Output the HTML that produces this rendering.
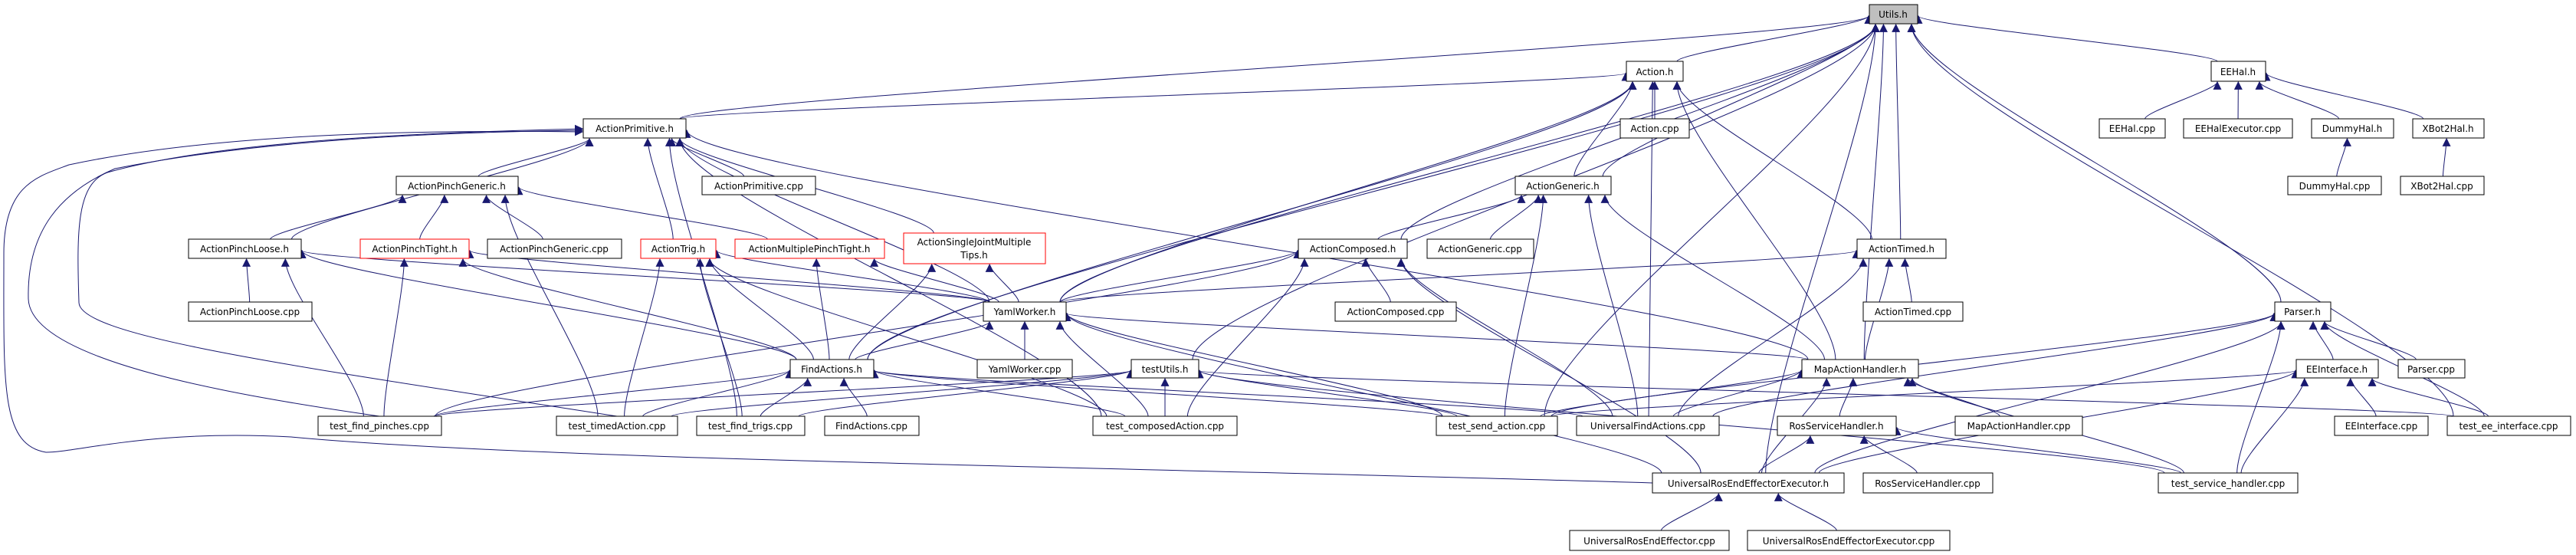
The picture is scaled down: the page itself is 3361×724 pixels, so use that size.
<!DOCTYPE html>
<html><head><meta charset="utf-8"><style>
html,body{margin:0;padding:0;background:#fff;}
svg{display:block;}
text{font-family:"DejaVu Sans","Liberation Sans",sans-serif;font-size:12px;fill:#000;}
</style></head><body>
<svg id="g" width="3361" height="724" viewBox="0 0 3361 724" xmlns="http://www.w3.org/2000/svg">
<defs><marker id="ah" viewBox="0 0 10 10" refX="9" refY="5" markerWidth="11" markerHeight="11" markerUnits="userSpaceOnUse" orient="auto"><path d="M0,0 L10,5 L0,10 z" fill="#191970"/></marker></defs>
<g fill="none" stroke="#191970" stroke-width="1">
<path marker-end="url(#ah)" d="M2156,630 C1500,610 700,600 380,570 C200,560 100,590 60,590 C0,580 5,500 5,330 C5,240 50,230 90,215 C300,170 600,170 760,172"/>
<path marker-end="url(#ah)" d="M495,543 C300,515 40,470 37,390 C35,300 80,250 150,220 C350,180 600,172 760,170"/>
<path marker-end="url(#ah)" d="M805,543 C400,480 105,440 103,395 C100,300 100,240 140,225 C300,180 600,172 760,168"/>
</g>
<g id="edges" fill="none" stroke="#191970" stroke-width="1"></g>
<g id="nodes" stroke-width="1">
<rect x="2439" y="6" width="63" height="25" fill="#bfbfbf" stroke="#000"/><text x="2470" y="23" text-anchor="middle">Utils.h</text>
<rect x="2122" y="80" width="74" height="26" fill="#fff" stroke="#000"/><text x="2159" y="98" text-anchor="middle">Action.h</text>
<rect x="2885" y="80" width="71" height="26" fill="#fff" stroke="#000"/><text x="2920" y="98" text-anchor="middle">EEHal.h</text>
<rect x="761" y="155" width="134" height="25" fill="#fff" stroke="#000"/><text x="828" y="172" text-anchor="middle">ActionPrimitive.h</text>
<rect x="2114" y="155" width="90" height="25" fill="#fff" stroke="#000"/><text x="2159" y="172" text-anchor="middle">Action.cpp</text>
<rect x="2739" y="155" width="86" height="25" fill="#fff" stroke="#000"/><text x="2782" y="172" text-anchor="middle">EEHal.cpp</text>
<rect x="2849" y="155" width="142" height="25" fill="#fff" stroke="#000"/><text x="2920" y="172" text-anchor="middle">EEHalExecutor.cpp</text>
<rect x="3016" y="155" width="107" height="25" fill="#fff" stroke="#000"/><text x="3069" y="172" text-anchor="middle">DummyHal.h</text>
<rect x="3148" y="155" width="93" height="25" fill="#fff" stroke="#000"/><text x="3194" y="172" text-anchor="middle">XBot2Hal.h</text>
<rect x="517" y="230" width="159" height="24" fill="#fff" stroke="#000"/><text x="596" y="247" text-anchor="middle">ActionPinchGeneric.h</text>
<rect x="916" y="230" width="148" height="24" fill="#fff" stroke="#000"/><text x="990" y="247" text-anchor="middle">ActionPrimitive.cpp</text>
<rect x="1977" y="230" width="125" height="24" fill="#fff" stroke="#000"/><text x="2039" y="247" text-anchor="middle">ActionGeneric.h</text>
<rect x="2985" y="230" width="122" height="24" fill="#fff" stroke="#000"/><text x="3046" y="247" text-anchor="middle">DummyHal.cpp</text>
<rect x="3132" y="230" width="109" height="24" fill="#fff" stroke="#000"/><text x="3186" y="247" text-anchor="middle">XBot2Hal.cpp</text>
<rect x="246" y="312" width="147" height="25" fill="#fff" stroke="#000"/><text x="319" y="329" text-anchor="middle">ActionPinchLoose.h</text>
<rect x="470" y="312" width="142" height="25" fill="#fff" stroke="#f00"/><text x="541" y="329" text-anchor="middle">ActionPinchTight.h</text>
<rect x="636" y="312" width="175" height="25" fill="#fff" stroke="#000"/><text x="723" y="329" text-anchor="middle">ActionPinchGeneric.cpp</text>
<rect x="836" y="312" width="98" height="25" fill="#fff" stroke="#f00"/><text x="885" y="329" text-anchor="middle">ActionTrig.h</text>
<rect x="959" y="312" width="195" height="25" fill="#fff" stroke="#f00"/><text x="1056" y="329" text-anchor="middle">ActionMultiplePinchTight.h</text>
<rect x="1179" y="304" width="185" height="40" fill="#fff" stroke="#f00"/><text x="1271" y="320" text-anchor="middle">ActionSingleJointMultiple</text><text x="1271" y="337" text-anchor="middle">Tips.h</text>
<rect x="1694" y="312" width="142" height="25" fill="#fff" stroke="#000"/><text x="1765" y="329" text-anchor="middle">ActionComposed.h</text>
<rect x="1862" y="312" width="139" height="25" fill="#fff" stroke="#000"/><text x="1931" y="329" text-anchor="middle">ActionGeneric.cpp</text>
<rect x="2423" y="312" width="116" height="25" fill="#fff" stroke="#000"/><text x="2481" y="329" text-anchor="middle">ActionTimed.h</text>
<rect x="246" y="394" width="161" height="25" fill="#fff" stroke="#000"/><text x="326" y="411" text-anchor="middle">ActionPinchLoose.cpp</text>
<rect x="1283" y="394" width="108" height="25" fill="#fff" stroke="#000"/><text x="1337" y="411" text-anchor="middle">YamlWorker.h</text>
<rect x="1742" y="394" width="158" height="25" fill="#fff" stroke="#000"/><text x="1821" y="411" text-anchor="middle">ActionComposed.cpp</text>
<rect x="2431" y="394" width="130" height="25" fill="#fff" stroke="#000"/><text x="2496" y="411" text-anchor="middle">ActionTimed.cpp</text>
<rect x="2968" y="394" width="73" height="25" fill="#fff" stroke="#000"/><text x="3004" y="411" text-anchor="middle">Parser.h</text>
<rect x="1031" y="469" width="109" height="24" fill="#fff" stroke="#000"/><text x="1085" y="486" text-anchor="middle">FindActions.h</text>
<rect x="1275" y="469" width="124" height="24" fill="#fff" stroke="#000"/><text x="1337" y="486" text-anchor="middle">YamlWorker.cpp</text>
<rect x="1476" y="469" width="88" height="24" fill="#fff" stroke="#000"/><text x="1520" y="486" text-anchor="middle">testUtils.h</text>
<rect x="2351" y="469" width="152" height="24" fill="#fff" stroke="#000"/><text x="2427" y="486" text-anchor="middle">MapActionHandler.h</text>
<rect x="2996" y="469" width="107" height="24" fill="#fff" stroke="#000"/><text x="3049" y="486" text-anchor="middle">EEInterface.h</text>
<rect x="3129" y="469" width="87" height="24" fill="#fff" stroke="#000"/><text x="3172" y="486" text-anchor="middle">Parser.cpp</text>
<rect x="415" y="543" width="161" height="25" fill="#fff" stroke="#000"/><text x="495" y="560" text-anchor="middle">test_find_pinches.cpp</text>
<rect x="726" y="543" width="158" height="25" fill="#fff" stroke="#000"/><text x="805" y="560" text-anchor="middle">test_timedAction.cpp</text>
<rect x="909" y="543" width="141" height="25" fill="#fff" stroke="#000"/><text x="979" y="560" text-anchor="middle">test_find_trigs.cpp</text>
<rect x="1076" y="543" width="123" height="25" fill="#fff" stroke="#000"/><text x="1137" y="560" text-anchor="middle">FindActions.cpp</text>
<rect x="1426" y="543" width="188" height="25" fill="#fff" stroke="#000"/><text x="1520" y="560" text-anchor="middle">test_composedAction.cpp</text>
<rect x="1874" y="543" width="158" height="25" fill="#fff" stroke="#000"/><text x="1953" y="560" text-anchor="middle">test_send_action.cpp</text>
<rect x="2057" y="543" width="186" height="25" fill="#fff" stroke="#000"/><text x="2150" y="560" text-anchor="middle">UniversalFindActions.cpp</text>
<rect x="2319" y="543" width="155" height="25" fill="#fff" stroke="#000"/><text x="2396" y="560" text-anchor="middle">RosServiceHandler.h</text>
<rect x="2551" y="543" width="166" height="25" fill="#fff" stroke="#000"/><text x="2634" y="560" text-anchor="middle">MapActionHandler.cpp</text>
<rect x="3046" y="543" width="122" height="25" fill="#fff" stroke="#000"/><text x="3107" y="560" text-anchor="middle">EEInterface.cpp</text>
<rect x="3193" y="543" width="161" height="25" fill="#fff" stroke="#000"/><text x="3273" y="560" text-anchor="middle">test_ee_interface.cpp</text>
<rect x="2156" y="617" width="250" height="26" fill="#fff" stroke="#000"/><text x="2281" y="635" text-anchor="middle">UniversalRosEndEffectorExecutor.h</text>
<rect x="2431" y="617" width="169" height="26" fill="#fff" stroke="#000"/><text x="2515" y="635" text-anchor="middle">RosServiceHandler.cpp</text>
<rect x="2816" y="617" width="182" height="26" fill="#fff" stroke="#000"/><text x="2907" y="635" text-anchor="middle">test_service_handler.cpp</text>
<rect x="2048" y="692" width="208" height="26" fill="#fff" stroke="#000"/><text x="2152" y="710" text-anchor="middle">UniversalRosEndEffector.cpp</text>
<rect x="2280" y="692" width="264" height="26" fill="#fff" stroke="#000"/><text x="2412" y="710" text-anchor="middle">UniversalRosEndEffectorExecutor.cpp</text>
</g>
</svg>
<script>
var N={
U:[2439,6,63,25],A:[2122,80,74,26],EH:[2885,80,71,26],AP:[761,155,134,25],Ac:[2114,155,90,25],
EHc:[2739,155,86,25],EHE:[2849,155,142,25],DH:[3016,155,107,25],XH:[3148,155,93,25],
APG:[517,230,159,24],APc:[916,230,148,24],AG:[1977,230,125,24],DHc:[2985,230,122,24],XHc:[3132,230,109,24],
APL:[246,312,147,25],APT:[470,312,142,25],APGc:[636,312,175,25],AT:[836,312,98,25],AMP:[959,312,195,25],
ASJ:[1179,304,185,40],AC:[1694,312,142,25],AGc:[1862,312,139,25],ATi:[2423,312,116,25],
APLc:[246,394,161,25],YW:[1283,394,108,25],ACc:[1742,394,158,25],ATic:[2431,394,130,25],P:[2968,394,73,25],
FA:[1031,469,109,24],YWc:[1275,469,124,24],TU:[1476,469,88,24],MAH:[2351,469,152,24],EI:[2996,469,107,24],Pc:[3129,469,87,24],
tfp:[415,543,161,25],tta:[726,543,158,25],tft:[909,543,141,25],FAc:[1076,543,123,25],tca:[1426,543,188,25],
tsa:[1874,543,158,25],UFA:[2057,543,186,25],RSH:[2319,543,155,25],MAHc:[2551,543,166,25],EIc:[3046,543,122,25],tei:[3193,543,161,25],
URE:[2156,617,250,26],RSHc:[2431,617,169,26],tsh:[2816,617,182,26],UREc:[2048,692,208,26],UREEc:[2280,692,264,26]};
var E=[["A","U"],["AP","U"],["YW","U"],["AC","U"],["AG","U"],["TU","U"],["ATi","U"],["MAH","U"],["URE","U"],["tsa","U"],["EH","U"],["P","U"],["tei","U"],["FA","U"],
["AP","A"],["Ac","A"],["AG","A"],["ATi","A"],["MAH","A"],["UFA","A"],["YW","A"],["FA","A"],
["APG","AP"],["APc","AP"],["AT","AP"],["ASJ","AP"],["APL","AP"],["YW","AP"],["MAH","AP"],["tca","AP"],["tft","AP"],
["APL","APG"],["APT","APG"],["APGc","APG"],["AMP","APG"],["tta","APG"],
["APLc","APL"],["tfp","APL"],["YW","APL"],["FA","APL"],
["tfp","APT"],["YW","APT"],["FA","APT"],
["tta","AT"],["tft","AT"],["FA","AT"],["YW","AT"],["tca","AT"],
["FA","AMP"],["YW","AMP"],["YW","ASJ"],["FA","ASJ"],
["AC","AG"],["AGc","AG"],["tsa","AG"],["UFA","AG"],["MAH","AG"],
["ACc","AC"],["YW","AC"],["tca","AC"],["UFA","AC"],["URE","AC"],["tfp","AC"],
["ATic","ATi"],["YW","ATi"],["UFA","ATi"],["MAH","ATi"],
["EHc","EH"],["EHE","EH"],["DH","EH"],["XH","EH"],["DHc","DH"],["XHc","XH"],
["YWc","YW"],["FA","YW"],["tca","YW"],["tsa","YW"],["MAH","YW"],["URE","YW"],
["FAc","FA"],["tfp","FA"],["tta","FA"],["tft","FA"],["tca","FA"],["tsa","FA"],["UFA","FA"],
["tca","TU"],["tfp","TU"],["tta","TU"],["tft","TU"],["tsa","TU"],["tsh","TU"],["tei","TU"],
["EI","P"],["Pc","P"],["tei","P"],["tsh","P"],["URE","P"],["UFA","P"],["tsa","P"],
["MAHc","MAH"],["RSH","MAH"],["UFA","MAH"],["tsa","MAH"],["tsh","MAH"],["URE","MAH"],
["EIc","EI"],["tei","EI"],["tsh","EI"],["URE","EI"],["tsa","EI"],
["RSHc","RSH"],["URE","RSH"],["tsh","RSH"],["UREc","URE"],["UREEc","URE"]];
var g=document.getElementById("edges"),s="";
E.forEach(function(e){var c=N[e[0]],p=N[e[1]];
var cx=c[0]+c[2]/2,cy=c[1],pcx=p[0]+p[2]/2,py=p[1]+p[3];
var dx=cx-pcx,dy=cy-py;
var sx=cx+Math.max(-c[2]/2+8,Math.min(c[2]/2-8,-dx*0.12));
var tx,ty;
if(Math.abs(dx)>4*dy+p[2]/2){
 tx=dx<0?p[0]-1:p[0]+p[2]+1; ty=p[1]+p[3]*0.6;
}else{
 var off=dx*0.3;var lim=p[2]/2-8;off=Math.max(-lim,Math.min(lim,off));
 tx=pcx+off; ty=py+1;
}
var ddy=cy-ty;
s+='<path marker-end="url(#ah)" d="M'+sx+','+cy+' C'+sx+','+(cy-ddy*0.2)+' '+tx+','+(ty+ddy*0.2)+' '+tx+','+ty+'"/>';
});
g.innerHTML=s;
</script>
</body></html>
